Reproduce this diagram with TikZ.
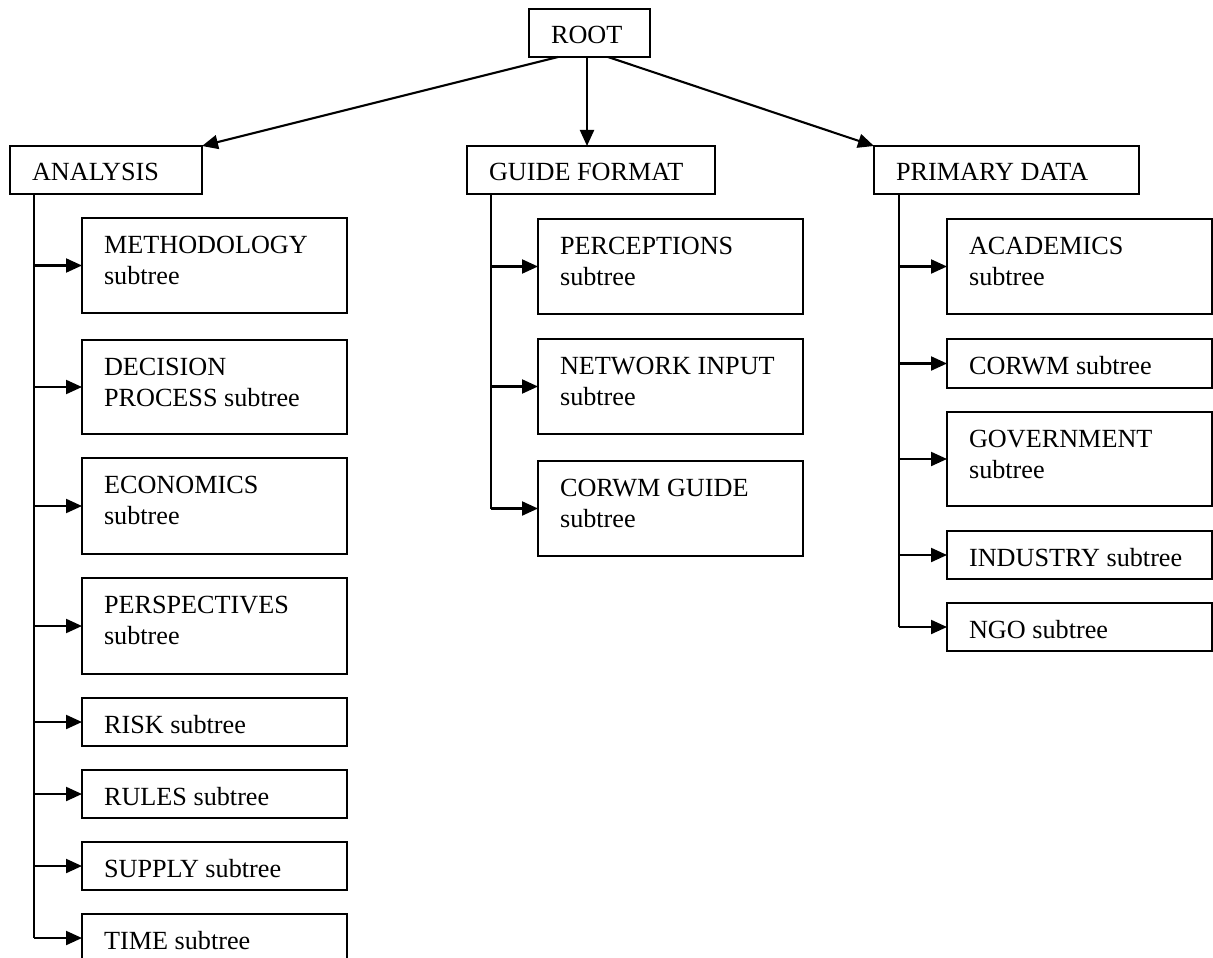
\documentclass[tikz,border=0pt]{standalone}
\usepackage{fontspec}
\setmainfont{Liberation Serif}
\usetikzlibrary{fit,calc,arrows.meta}
\newcommand{\boxone}[6]{%
  \node[boxst, fit={(#2,#3) (#4,#5)}] (#1) {};
  \node[txt] (#1t) at (#2+21,#3+35) {#6};}
\newcommand{\boxtwo}[7]{%
  \node[boxst, fit={(#2,#3) (#4,#5)}] (#1) {};
  \node[txt] (#1t) at (#2+21,#3+35) {#6};
  \node[txt] (#1u) at (#2+21,#3+66) {#7};}
\begin{document}
\begin{tikzpicture}[x=0.5pt,y=-0.5pt,line width=1.05pt,
  boxst/.style={draw,inner sep=0pt,outer sep=0pt},
  arr/.style={-{Triangle[length=8pt,width=7pt]}},
  txt/.style={anchor=base west,inner sep=0pt,font=\fontsize{13.1}{15.5}\selectfont}]
\useasboundingbox (0,0) rectangle (1213,957);
\boxone{root}{529}{9}{650}{57}{ROOT}
\boxone{ana}{10}{146}{202}{194}{ANALYSIS}
\boxone{gf}{467}{146}{715}{194}{GUIDE FORMAT}
\boxone{pd}{874}{146}{1139}{194}{PRIMARY DATA}
\boxtwo{meth}{82}{218}{347}{313}{METHODOLOGY}{subtree}
\boxtwo{dec}{82}{340}{347}{434}{DECISION}{PROCESS subtree}
\boxtwo{eco}{82}{458}{347}{554}{ECONOMICS}{subtree}
\boxtwo{per}{82}{578}{347}{674}{PERSPECTIVES}{subtree}
\boxone{risk}{82}{698}{347}{746}{RISK subtree}
\boxone{rules}{82}{770}{347}{818}{RULES subtree}
\boxone{sup}{82}{842}{347}{890}{SUPPLY subtree}
\boxone{time}{82}{914}{347}{962}{TIME subtree}
\boxtwo{perc}{538}{219}{803}{314}{PERCEPTIONS}{subtree}
\boxtwo{net}{538}{339}{803}{434}{NETWORK INPUT}{subtree}
\boxtwo{cg}{538}{461}{803}{556}{CORWM GUIDE}{subtree}
\boxtwo{acad}{947}{219}{1212}{314}{ACADEMICS}{subtree}
\boxone{corwm}{947}{339}{1212}{388}{CORWM subtree}
\boxtwo{gov}{947}{412}{1212}{506}{GOVERNMENT}{subtree}
\boxone{ind}{947}{531}{1212}{579}{INDUSTRY subtree}
\boxone{ngo}{947}{603}{1212}{651}{NGO subtree}
% root connectors
\coordinate (rl) at ($(root.south west)+(29,0)$);
\coordinate (rm) at ($(root.south west)+(58,0)$);
\coordinate (rr) at ($(root.south east)+(-42,0)$);
\draw[arr] (rl) -- (ana.north east);
\draw[arr] (rm) -- (rm |- gf.north);
\draw[arr] (rr) -- (pd.north west);
% spines
\coordinate (av) at ($(ana.south west)+(24,0)$);
\draw (av) -- (av |- time.west);
\foreach \n in {meth,dec,eco,per,risk,rules,sup,time}
  \draw[arr] (av |- \n.west) -- (\n.west);
\coordinate (gv) at ($(gf.south west)+(24,0)$);
\draw (gv) -- (gv |- cg.west);
\foreach \n in {perc,net,cg}
  \draw[arr] (gv |- \n.west) -- (\n.west);
\coordinate (pv) at ($(pd.south west)+(25,0)$);
\draw (pv) -- (pv |- ngo.west);
\foreach \n in {acad,corwm,gov,ind,ngo}
  \draw[arr] (pv |- \n.west) -- (\n.west);
\end{tikzpicture}
\end{document}
